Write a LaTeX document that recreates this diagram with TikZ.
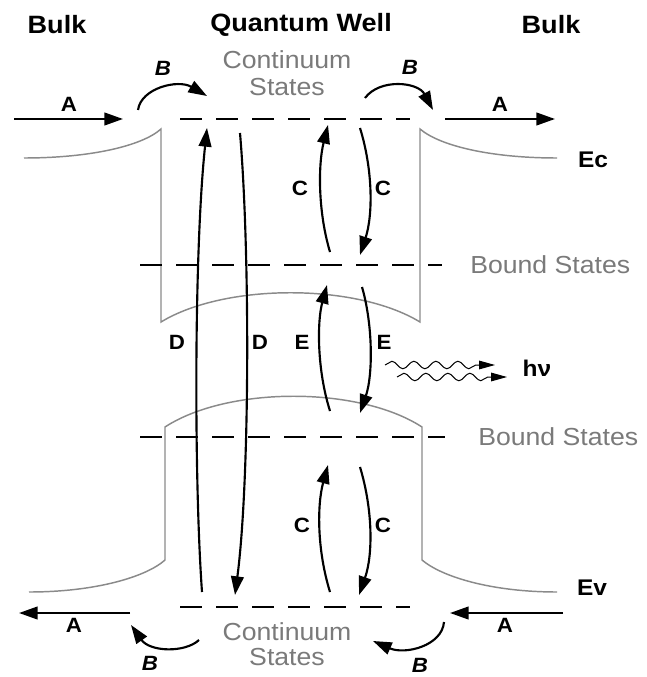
\documentclass[tikz,border=0pt]{standalone}
\usepackage{fontspec}
\setmainfont[FakeStretch=1.08]{Liberation Sans}
\usetikzlibrary{arrows.meta,decorations.pathmorphing}
\definecolor{bandgray}{HTML}{8A8A8A}
\definecolor{txtgray}{HTML}{7A7A7A}
\begin{document}
\begin{tikzpicture}[x=0.75pt,y=-0.75pt,
  band/.style={draw=bandgray,line width=1.1pt},
  arr/.style={line width=1.6pt,-{Triangle[length=14pt,width=9.5pt]}},
  lvl/.style={line width=1.6pt,dash pattern=on 16.5pt off 10.5pt},
  wave/.style={line width=0.75pt,-{Triangle[length=12pt,width=6.5pt]},
    decorate,decoration={snake,amplitude=2.8pt,segment length=16.5pt,post length=13pt}},
  ttl/.style={font=\bfseries\fontsize{18.8pt}{20pt}\selectfont,inner sep=0pt},
  gtxt/.style={font=\fontsize{18.5pt}{20pt}\selectfont,text=txtgray,inner sep=0pt},
  ltr/.style={font=\bfseries\fontsize{15.5pt}{17pt}\selectfont,inner sep=0pt},
  bltr/.style={font=\bfseries\itshape\fontsize{15.5pt}{17pt}\selectfont,inner sep=0pt},
  elbl/.style={font=\bfseries\fontsize{17pt}{19pt}\selectfont,inner sep=0pt}]
\useasboundingbox (0,0) rectangle (646,677);

% titles
\node[ttl] (bulkL) at (57,25) {Bulk};
\node[ttl] (qw) at (301,25) {Quantum Well};
\node[ttl] (bulkR) at (551,25) {Bulk};

% continuum labels
\node[gtxt] (cont1) at (287,60) {Continuum};
\node[gtxt] (st1) at (287,87) {States};
\node[gtxt] (cont2) at (287,632) {Continuum};
\node[gtxt] (st2) at (287,657) {States};
\node[gtxt,anchor=west] (bs1) at (470,265) {Bound States};
\node[gtxt,anchor=west] (bs2) at (478,437) {Bound States};

% band edges
\draw[band] (24,158) .. controls (90,158) and (142,146) .. (161,129) -- (161,322)
  .. controls (225,283) and (356,283) .. (420,322) -- (420,129)
  .. controls (440,146) and (491,158) .. (557,158);
\draw[band] (29,592) .. controls (95,592) and (146,577) .. (165,560) -- (165,427)
  .. controls (228,386) and (359,386) .. (422,427) -- (422,560)
  .. controls (442,577) and (492,592) .. (557,592);
\node[elbl] (ec) at (593,160) {Ec};
\node[elbl] (ev) at (592,588) {Ev};

% levels
\coordinate (cT1) at (180,119); \coordinate (cT2) at (410,119);
\coordinate (bU1) at (140,265); \coordinate (bU2) at (442,265);
\coordinate (bL1) at (140,437); \coordinate (bL2) at (445,437);
\coordinate (cB1) at (180,607); \coordinate (cB2) at (410,607);
\draw[lvl] (cT1) -- (cT2);
\draw[lvl] (bU1) -- (bU2);
\draw[lvl] (bL1) -- (bL2);
\draw[lvl] (cB1) -- (cB2);

% A arrows
\coordinate (AL1s) at (14,119); \coordinate (AL1e) at (123,119);
\coordinate (AR1s) at (445,119); \coordinate (AR1e) at (555,119);
\coordinate (AL2s) at (130,613); \coordinate (AL2e) at (19,613);
\coordinate (AR2s) at (563,613); \coordinate (AR2e) at (450,613);
\draw[arr] (AL1s) -- (AL1e);
\draw[arr] (AR1s) -- (AR1e);
\draw[arr] (AL2s) -- (AL2e);
\draw[arr] (AR2s) -- (AR2e);
\node[ltr] (aL1) at (69,104) {A};
\node[ltr] (aR1) at (500,104) {A};
\node[ltr] (aL2) at (74,625) {A};
\node[ltr] (aR2) at (505,625) {A};

% B arrows
\coordinate (BL1s) at (138,110); \coordinate (BL1e) at (207,96);
\coordinate (BR1s) at (365,98); \coordinate (BR1e) at (433,110);
\coordinate (BL2s) at (199,640); \coordinate (BL2e) at (131,625);
\coordinate (BR2s) at (444,622); \coordinate (BR2e) at (373,641);
\draw[arr] (BL1s) .. controls (141,88) and (178,79) .. (BL1e);
\draw[arr] (BR1s) .. controls (380,78) and (418,82) .. (BR1e);
\draw[arr] (BL2s) .. controls (185,653) and (150,652) .. (BL2e);
\draw[arr] (BR2s) .. controls (442,646) and (405,655) .. (BR2e);
\node[bltr] (bL1) at (163,68) {B};
\node[bltr] (bR1) at (410,67) {B};
\node[bltr] (bL2) at (150,663) {B};
\node[bltr] (bR2) at (420,665) {B};

% D arrows
\coordinate (Dus) at (202,592); \coordinate (Due) at (207,128);
\coordinate (Dds) at (240,133); \coordinate (Dde) at (235,595);
\draw[arr] (Dus) .. controls (194,480) and (194,250) .. (Due);
\draw[arr] (Dds) .. controls (250,250) and (250,480) .. (Dde);
\node[ltr] (d1) at (177,342) {D};
\node[ltr] (d2) at (260,342) {D};

% C arrows (upper)
\coordinate (Cu1s) at (330,252); \coordinate (Cu1e) at (328,125);
\coordinate (Cd1s) at (360,128); \coordinate (Cd1e) at (360,255);
\draw[arr] (Cu1s) .. controls (318,212) and (318,165) .. (Cu1e);
\draw[arr] (Cd1s) .. controls (373,170) and (373,215) .. (Cd1e);
\node[ltr] (c1) at (300,188) {C};
\node[ltr] (c2) at (383,188) {C};

% E arrows
\coordinate (Eus) at (330,411); \coordinate (Eue) at (327,285);
\coordinate (Eds) at (362,287); \coordinate (Ede) at (360,413);
\draw[arr] (Eus) .. controls (317,370) and (317,322) .. (Eue);
\draw[arr] (Eds) .. controls (373,325) and (373,375) .. (Ede);
\node[ltr] (e1) at (302,342) {E};
\node[ltr] (e2) at (384,342) {E};

% C arrows (lower)
\coordinate (Cu2s) at (330,592); \coordinate (Cu2e) at (328,465);
\coordinate (Cd2s) at (360,467); \coordinate (Cd2e) at (359,595);
\draw[arr] (Cu2s) .. controls (317,550) and (317,505) .. (Cu2e);
\draw[arr] (Cd2s) .. controls (373,510) and (373,555) .. (Cd2e);
\node[ltr] (c3) at (302,525) {C};
\node[ltr] (c4) at (383,525) {C};

% photons
\coordinate (W1s) at (385,365); \coordinate (W1e) at (495,365);
\coordinate (W2s) at (397,377); \coordinate (W2e) at (507,377);
\draw[wave] (W1s) -- (W1e);
\draw[wave] (W2s) -- (W2e);
\node[elbl] (hv) at (537,368) {hν};
\end{tikzpicture}
\end{document}
